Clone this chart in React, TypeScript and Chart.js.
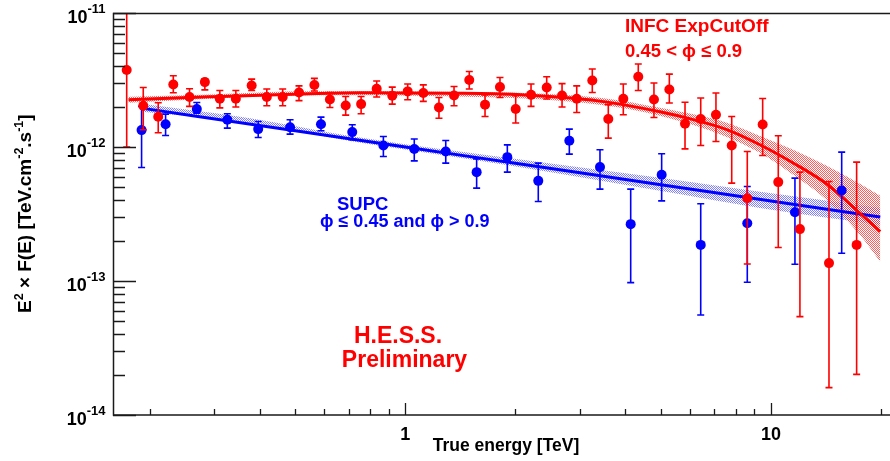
import React, { useEffect, useRef } from "react";
import { Chart, registerables } from "chart.js";
Chart.register(...registerables);

// ---- data ----
const RED_E = [0.173, 0.192, 0.211, 0.232, 0.257, 0.283, 0.311, 0.344, 0.38, 0.418, 0.462, 0.512, 0.564, 0.622, 0.687, 0.757, 0.835, 0.921, 1.015, 1.12, 1.236, 1.359, 1.496, 1.652, 1.815, 2.004, 2.207, 2.436, 2.683, 2.943, 3.246, 3.59, 3.946, 4.336, 4.786, 5.273, 5.82, 6.425, 7.072, 7.81, 8.614, 9.49, 10.47, 12.0, 14.41, 17.15];
const RED_F = [3.75e-12, 2.03e-12, 1.68e-12, 2.93e-12, 2.36e-12, 3.05e-12, 2.29e-12, 2.29e-12, 2.88e-12, 2.36e-12, 2.36e-12, 2.55e-12, 2.9e-12, 2.26e-12, 2.04e-12, 2.09e-12, 2.72e-12, 2.41e-12, 2.6e-12, 2.53e-12, 1.97e-12, 2.42e-12, 3.16e-12, 2.07e-12, 2.8e-12, 1.92e-12, 2.45e-12, 2.78e-12, 2.42e-12, 2.29e-12, 3.14e-12, 1.62e-12, 2.29e-12, 3.34e-12, 2.26e-12, 2.69e-12, 1.49e-12, 1.62e-12, 1.74e-12, 1.026e-12, 4.15e-13, 1.47e-12, 5.47e-13, 2.44e-13, 1.36e-13, 1.86e-13];
const RED_HI = [1.2e-11, 2.78e-12, 2.14e-12, 3.4e-12, 2.72e-12, 3.23e-12, 2.64e-12, 2.64e-12, 3.21e-12, 2.71e-12, 2.71e-12, 2.86e-12, 3.25e-12, 2.55e-12, 2.38e-12, 2.38e-12, 3.11e-12, 2.8e-12, 2.95e-12, 2.91e-12, 2.34e-12, 2.83e-12, 3.66e-12, 2.45e-12, 3.3e-12, 2.41e-12, 2.95e-12, 3.34e-12, 2.97e-12, 2.86e-12, 3.82e-12, 2.07e-12, 2.95e-12, 4.16e-12, 3.0e-12, 3.5e-12, 2.16e-12, 2.32e-12, 2.53e-12, 1.69e-12, 9.26e-13, 2.3e-12, 1.213e-12, 6.49e-13, 5.53e-13, 7.71e-13];
const RED_LO = [1.0e-12, 1.345e-12, 1.276e-12, 2.54e-12, 2.01e-12, 2.67e-12, 1.96e-12, 1.99e-12, 2.64e-12, 2.03e-12, 2.03e-12, 2.22e-12, 2.62e-12, 1.97e-12, 1.73e-12, 1.77e-12, 2.36e-12, 2.09e-12, 2.25e-12, 2.19e-12, 1.64e-12, 2.03e-12, 2.71e-12, 1.69e-12, 2.34e-12, 1.51e-12, 2.01e-12, 2.28e-12, 1.99e-12, 1.81e-12, 2.55e-12, 1.165e-12, 1.74e-12, 2.64e-12, 1.66e-12, 2.13e-12, 9.69e-13, 1.026e-12, 1.1e-12, 5.38e-13, 1.34e-13, 8.64e-13, 1.776e-13, 5.42e-14, 1.6e-14, 2.01e-14];

const BLUE_E = [0.19, 0.221, 0.269, 0.326, 0.396, 0.484, 0.588, 0.716, 0.871, 1.058, 1.29, 1.567, 1.901, 2.31, 2.809, 3.407, 4.134, 5.024, 6.425, 8.614, 11.63, 15.61];
const BLUE_F = [1.337e-12, 1.48e-12, 1.92e-12, 1.596e-12, 1.36e-12, 1.403e-12, 1.48e-12, 1.292e-12, 1.026e-12, 9.65e-13, 9.26e-13, 6.49e-13, 8.4e-13, 5.59e-13, 1.112e-12, 7.08e-13, 2.656e-13, 6.2e-13, 1.86e-13, 2.7e-13, 3.26e-13, 4.73e-13];
const BLUE_HI = [2.01e-12, 1.76e-12, 2.15e-12, 1.77e-12, 1.55e-12, 1.596e-12, 1.672e-12, 1.465e-12, 1.198e-12, 1.146e-12, 1.118e-12, 8.16e-13, 1.038e-12, 7.58e-13, 1.36e-12, 9.53e-13, 4.85e-13, 8.9e-13, 3.77e-13, 5.07e-13, 5.86e-13, 9.16e-13];
const BLUE_LO = [7.03e-13, 1.219e-12, 1.79e-12, 1.384e-12, 1.178e-12, 1.248e-12, 1.321e-12, 1.132e-12, 8.49e-13, 7.88e-13, 7.58e-13, 4.93e-13, 6.49e-13, 3.92e-13, 8.85e-13, 4.85e-13, 9.73e-14, 3.96e-13, 5.58e-14, 9.8e-14, 1.335e-13, 1.61e-13];

// fitted model curves
const RED_FIT_E = [0.175, 0.292, 0.548, 0.752, 1.325, 2.02, 3.4, 4.97, 6.13, 7.57, 9.33, 11.5, 14.2, 17.5, 19.9];
const RED_FIT_F = [2.25e-12, 2.37e-12, 2.5e-12, 2.54e-12, 2.52e-12, 2.46e-12, 2.2e-12, 1.83e-12, 1.6e-12, 1.35e-12, 1.04e-12, 7.6e-13, 5.3e-13, 3.21e-13, 2.34e-13];
const RED_BAND_E = [0.175, 0.292, 0.548, 1.325, 3.4, 4.97, 7.57, 9.33, 11.5, 14.2, 17.5, 19.9];
const RED_BAND_UP = [2.37e-12, 2.47e-12, 2.61e-12, 2.58e-12, 2.33e-12, 1.96e-12, 1.52e-12, 1.21e-12, 9.53e-13, 7.24e-13, 5.31e-13, 4.32e-13];
const RED_BAND_LO = [2.14e-12, 2.29e-12, 2.43e-12, 2.39e-12, 2.07e-12, 1.71e-12, 1.19e-12, 9.05e-13, 6.2e-13, 4.03e-13, 2.21e-13, 1.39e-13];

const BLUE_FIT_E = [0.19, 0.5, 1, 2, 5, 10, 19.9];
const BLUE_FIT_F = [1.95e-12, 1.32e-12, 1.0e-12, 7.56e-13, 5.23e-13, 3.95e-13, 3.0e-13];
const BLUE_BAND_E = [0.19, 0.376, 0.706, 1.325, 2.65, 4.97, 9.33, 19.9];
const BLUE_BAND_UP = [2.1e-12, 1.64e-12, 1.21e-12, 9.45e-13, 7.36e-13, 5.89e-13, 4.63e-13, 3.51e-13];
const BLUE_BAND_LO = [1.83e-12, 1.52e-12, 1.11e-12, 8.52e-13, 6.31e-13, 4.71e-13, 3.51e-13, 2.62e-13];

// axis ticks
const X_MAJOR = [1, 10];
const X_MINOR = [0.2, 0.3, 0.4, 0.5, 0.6, 0.7, 0.8, 0.9, 2, 3, 4, 5, 6, 7, 8, 9, 20];
const Y_EXP = [-14, -13, -12, -11];
const Y_MINOR_MANT = [2, 3, 4, 5, 6, 7, 8, 9];

const X_MIN = 0.1587;
const X_MAX = 21.16;
const Y_MIN = 1e-14;
const Y_MAX = 1e-11;

const RED = "rgb(255,0,0)";
const BLUE = "rgb(0,0,255)";
const FONT = '"Liberation Sans", Arial, Helvetica, sans-serif';

type Seg = { t: string; sup?: boolean };

function drawRich(ctx: CanvasRenderingContext2D, segs: Seg[], x: number, y: number, base: number, supSize: number, rise: number, align: "left" | "center" | "right") {
  let w = 0;
  for (const s of segs) {
    ctx.font = `bold ${s.sup ? supSize : base}px ${FONT}`;
    w += ctx.measureText(s.t).width;
  }
  let cx = align === "right" ? x - w : align === "center" ? x - w / 2 : x;
  ctx.textAlign = "left";
  ctx.textBaseline = "alphabetic";
  for (const s of segs) {
    ctx.font = `bold ${s.sup ? supSize : base}px ${FONT}`;
    ctx.fillText(s.t, cx, s.sup ? y - rise : y);
    cx += ctx.measureText(s.t).width;
  }
}

const errorBarPlugin = {
  id: "errorBars",
  beforeDatasetDraw(chart: any, args: any) {
    const ds = chart.data.datasets[args.index];
    if (!ds.errLo) return;
    const ctx = chart.ctx;
    const xs = chart.scales.x;
    const ys = chart.scales.y;
    const a = chart.chartArea;
    ctx.save();
    ctx.beginPath();
    ctx.rect(a.left, a.top, a.right - a.left, a.bottom - a.top);
    ctx.clip();
    ctx.strokeStyle = ds.borderColor;
    ctx.lineWidth = 1.6;
    ds.data.forEach((p: any, i: number) => {
      const px = xs.getPixelForValue(p.x);
      const yl = ys.getPixelForValue(ds.errLo[i]);
      const yh = ys.getPixelForValue(ds.errHi[i]);
      ctx.beginPath();
      ctx.moveTo(px, yl);
      ctx.lineTo(px, yh);
      ctx.moveTo(px - 3.5, yl);
      ctx.lineTo(px + 3.5, yl);
      ctx.moveTo(px - 3.5, yh);
      ctx.lineTo(px + 3.5, yh);
      ctx.stroke();
    });
    ctx.restore();
  },
};

const framePlugin = {
  id: "frame",
  afterDatasetsDraw(chart: any) {
    const ctx = chart.ctx;
    const xs = chart.scales.x;
    const ys = chart.scales.y;
    const a = chart.chartArea;
    ctx.save();
    ctx.strokeStyle = "#1a1a1a";
    ctx.lineWidth = 1.5;
    ctx.beginPath();
    ctx.moveTo(a.right, a.top + 0.5);
    ctx.lineTo(a.left + 0.5, a.top + 0.5);
    ctx.lineTo(a.left + 0.5, a.bottom);
    ctx.lineTo(a.right, a.bottom);
    ctx.stroke();
    ctx.lineWidth = 1.3;
    ctx.beginPath();
    for (const v of X_MAJOR) {
      const px = Math.round(xs.getPixelForValue(v)) + 0.5;
      ctx.moveTo(px, a.bottom);
      ctx.lineTo(px, a.bottom - 12);
    }
    for (const v of X_MINOR) {
      const px = Math.round(xs.getPixelForValue(v)) + 0.5;
      ctx.moveTo(px, a.bottom);
      ctx.lineTo(px, a.bottom - 6);
    }
    for (const e of Y_EXP) {
      const py = Math.round(ys.getPixelForValue(Math.pow(10, e))) + 0.5;
      ctx.moveTo(a.left, py);
      ctx.lineTo(a.left + 23, py);
      if (e < -11) {
        for (const m of Y_MINOR_MANT) {
          const pm = Math.round(ys.getPixelForValue(m * Math.pow(10, e))) + 0.5;
          ctx.moveTo(a.left, pm);
          ctx.lineTo(a.left + 12, pm);
        }
      }
    }
    ctx.stroke();

    // tick labels
    ctx.fillStyle = "#000";
    for (const e of Y_EXP) {
      const py = ys.getPixelForValue(Math.pow(10, e));
      drawRich(ctx, [{ t: "10" }, { t: String(e), sup: true }], 105.5, py + 9.7, 18, 13, 9.5, "right");
    }
    ctx.font = `bold 18px ${FONT}`;
    ctx.textAlign = "center";
    for (const v of X_MAJOR) {
      ctx.fillText(String(v), xs.getPixelForValue(v), 440);
    }
    // axis titles
    ctx.font = `bold 17.5px ${FONT}`;
    ctx.textAlign = "center";
    ctx.fillText("True energy [TeV]", 506, 451);
    ctx.save();
    ctx.translate(31, 213.7);
    ctx.rotate(-Math.PI / 2);
    drawRich(
      ctx,
      [{ t: "E" }, { t: "2", sup: true }, { t: " \u00d7 F(E) [TeV.cm" }, { t: "-2", sup: true }, { t: ".s" }, { t: "-1", sup: true }, { t: "]" }],
      0, 0, 19, 12.5, 8, "center"
    );
    ctx.restore();

    // annotations
    ctx.textAlign = "left";
    ctx.fillStyle = RED;
    ctx.font = `bold 19px ${FONT}`;
    ctx.fillText("INFC ExpCutOff", 625, 32);
    ctx.font = `bold 18.5px ${FONT}`;
    ctx.fillText("0.45 < \u03d5 \u2264 0.9", 625, 57);
    ctx.fillStyle = BLUE;
    ctx.font = `bold 18.5px ${FONT}`;
    ctx.fillText("SUPC", 337, 210);
    ctx.font = `bold 18px ${FONT}`;
    ctx.fillText("\u03d5 \u2264 0.45 and \u03d5 > 0.9", 320, 227);
    ctx.fillStyle = RED;
    ctx.textAlign = "center";
    ctx.font = `bold 23px ${FONT}`;
    ctx.fillText("H.E.S.S.", 398, 343);
    ctx.fillText("Preliminary", 404.5, 367);
    ctx.restore();
  },
};

function pts(xsArr: number[], ysArr: number[]) {
  return xsArr.map((x, i) => ({ x, y: ysArr[i] }));
}

export default function App() {
  const ref = useRef<HTMLCanvasElement | null>(null);
  useEffect(() => {
    const canvas = ref.current!;
    const c2d = canvas.getContext("2d")!;
    const makePattern = (color: string) => {
      const pc = document.createElement("canvas");
      pc.width = 2;
      pc.height = 2;
      const g = pc.getContext("2d")!;
      g.fillStyle = color;
      g.fillRect(0, 0, 1, 1);
      g.fillRect(1, 1, 1, 1);
      return c2d.createPattern(pc, "repeat");
    };
    const redPat = makePattern("rgba(255,40,40,0.75)");
    const bluePat = makePattern("rgba(40,40,255,0.6)");

    const chart = new Chart(canvas, {
      type: "line",
      data: {
        datasets: [
          {
            data: pts(RED_E, RED_F),
            errLo: RED_LO,
            errHi: RED_HI,
            showLine: false,
            pointRadius: 5,
            pointBackgroundColor: RED,
            pointBorderColor: RED,
            pointBorderWidth: 0,
            borderColor: RED,
            order: 0,
          } as any,
          {
            data: pts(BLUE_E, BLUE_F),
            errLo: BLUE_LO,
            errHi: BLUE_HI,
            showLine: false,
            pointRadius: 5,
            pointBackgroundColor: BLUE,
            pointBorderColor: BLUE,
            pointBorderWidth: 0,
            borderColor: BLUE,
            order: 1,
          } as any,
          {
            data: pts(RED_FIT_E, RED_FIT_F),
            borderColor: RED,
            borderWidth: 3,
            pointRadius: 0,
            cubicInterpolationMode: "monotone",
            fill: false,
            order: 2,
          },
          {
            data: pts(BLUE_FIT_E, BLUE_FIT_F),
            borderColor: BLUE,
            borderWidth: 3,
            pointRadius: 0,
            cubicInterpolationMode: "monotone",
            fill: false,
            order: 3,
          },
          {
            data: pts(RED_BAND_E, RED_BAND_UP),
            borderWidth: 0,
            borderColor: "rgba(0,0,0,0)",
            backgroundColor: redPat as any,
            pointRadius: 0,
            cubicInterpolationMode: "monotone",
            fill: "+1",
            order: 4,
          },
          {
            data: pts(RED_BAND_E, RED_BAND_LO),
            borderWidth: 0,
            borderColor: "rgba(0,0,0,0)",
            pointRadius: 0,
            cubicInterpolationMode: "monotone",
            fill: false,
            order: 5,
          },
          {
            data: pts(BLUE_BAND_E, BLUE_BAND_UP),
            borderWidth: 0,
            borderColor: "rgba(0,0,0,0)",
            backgroundColor: bluePat as any,
            pointRadius: 0,
            cubicInterpolationMode: "monotone",
            fill: "+1",
            order: 6,
          },
          {
            data: pts(BLUE_BAND_E, BLUE_BAND_LO),
            borderWidth: 0,
            borderColor: "rgba(0,0,0,0)",
            pointRadius: 0,
            cubicInterpolationMode: "monotone",
            fill: false,
            order: 7,
          },
        ],
      },
      options: {
        responsive: false,
        animation: false,
        devicePixelRatio: 1,
        layout: { autoPadding: false, padding: { top: 13, right: 0, left: 0, bottom: 0 } },
        plugins: { legend: { display: false }, tooltip: { enabled: false } },
        events: [],
        scales: {
          x: {
            type: "logarithmic",
            min: X_MIN,
            max: X_MAX,
            grid: { display: false },
            border: { display: false },
            ticks: { display: false },
            afterFit: (s: any) => {
              s.height = 46;
            },
          },
          y: {
            type: "logarithmic",
            min: Y_MIN,
            max: Y_MAX,
            grid: { display: false },
            border: { display: false },
            ticks: { display: false },
            afterFit: (s: any) => {
              s.width = 113;
            },
          },
        },
      } as any,
      plugins: [errorBarPlugin, framePlugin],
    });
    return () => chart.destroy();
  }, []);
  return (
    <div style={{ position: "absolute", left: 0, top: 0, width: 890, height: 461, background: "#fff" }}>
      <canvas ref={ref} width={890} height={461} style={{ display: "block" }} />
    </div>
  );
}
